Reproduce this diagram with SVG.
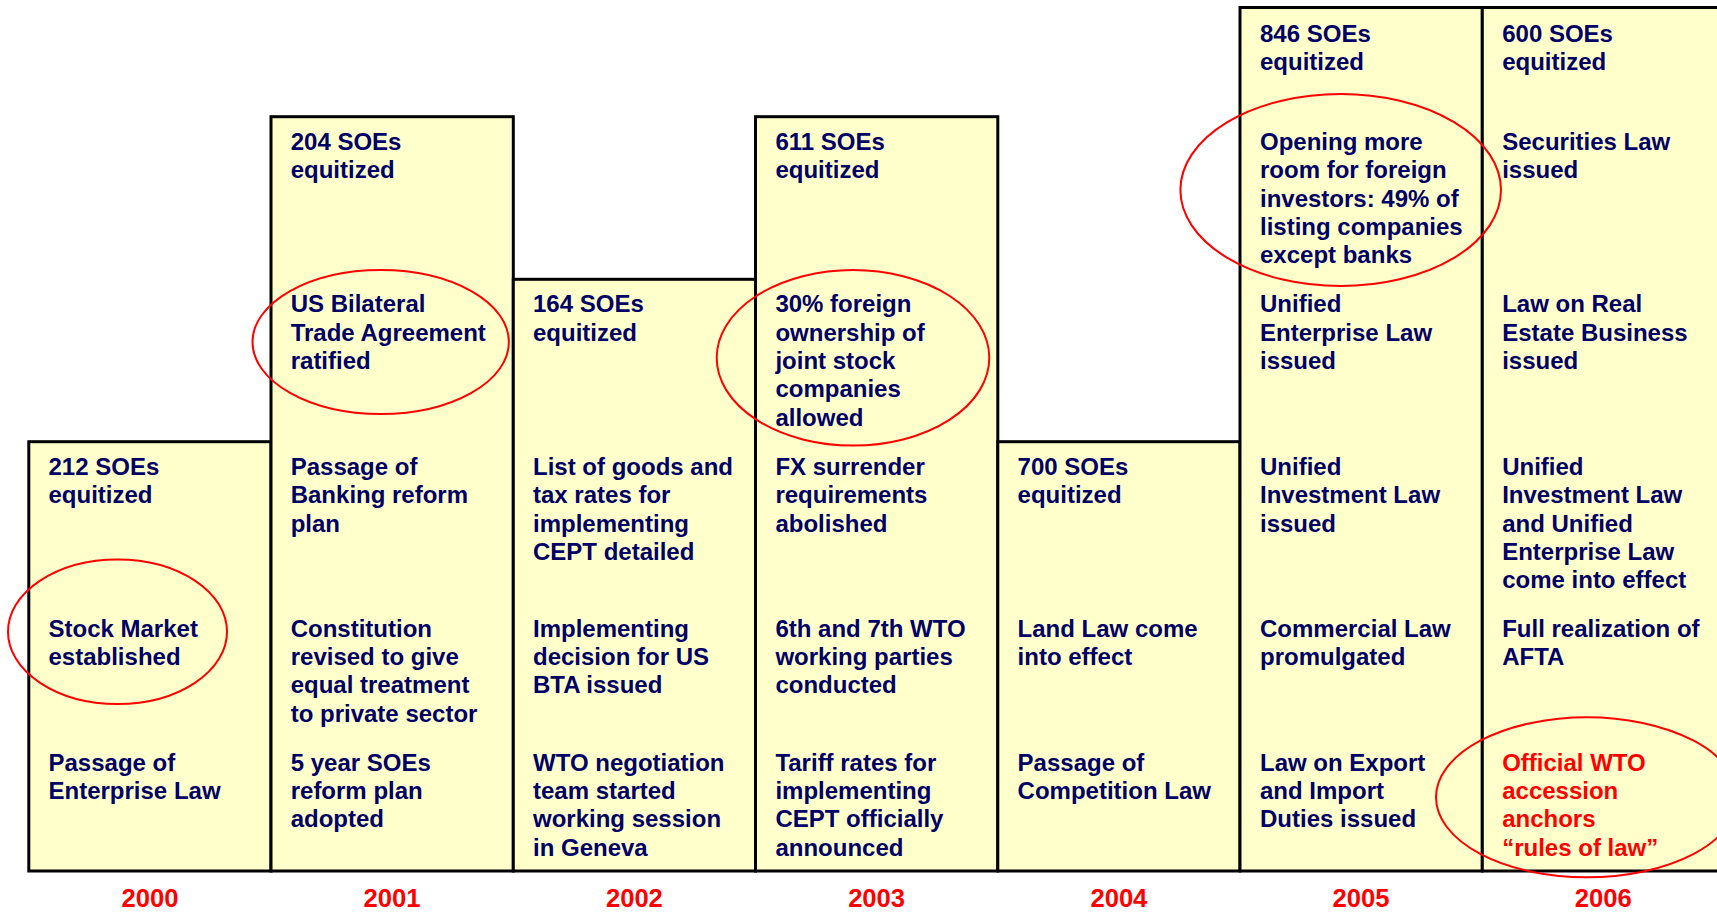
<svg xmlns="http://www.w3.org/2000/svg" width="1717" height="917" viewBox="0 0 1717 917">
<style>
.col{fill:#FFFFCC;stroke:#000;stroke-width:3}
.t{font-family:"Liberation Sans",Arial,sans-serif;font-weight:bold;font-size:24px;fill:#000066}
.red{fill:#FF0000}
.yr{font-family:"Liberation Sans",Arial,sans-serif;font-weight:bold;font-size:25.6px;fill:#FF0000;text-anchor:middle}
.ring{fill:none;stroke:#FF0000;stroke-width:2}
</style>
<rect width="1717" height="917" fill="#fff"/>
<g id="y2000">
<rect class="col" x="28.8" y="441.7" width="242.2" height="429.3"/>
<text class="t" x="48.5" y="475"><tspan x="48.5">212 SOEs</tspan><tspan x="48.5" dy="28.3">equitized</tspan></text>
<text class="t" x="48.5" y="636.7"><tspan x="48.5">Stock Market</tspan><tspan x="48.5" dy="28.3">established</tspan></text>
<text class="t" x="48.5" y="770.7"><tspan x="48.5">Passage of</tspan><tspan x="48.5" dy="28.3">Enterprise Law</tspan></text>
<text class="yr" x="150" y="906.5">2000</text>
</g>
<g id="y2001">
<rect class="col" x="271" y="116.7" width="242.3" height="754.3"/>
<text class="t" y="150"><tspan x="290.7">204 SOEs</tspan><tspan x="290.7" dy="28.3">equitized</tspan></text>
<text class="t" y="312.3"><tspan x="290.7">US Bilateral</tspan><tspan x="290.7" dy="28.3">Trade Agreement</tspan><tspan x="290.7" dy="28.3">ratified</tspan></text>
<text class="t" y="475"><tspan x="290.7">Passage of</tspan><tspan x="290.7" dy="28.3">Banking reform</tspan><tspan x="290.7" dy="28.3">plan</tspan></text>
<text class="t" y="636.7"><tspan x="290.7">Constitution</tspan><tspan x="290.7" dy="28.3">revised to give</tspan><tspan x="290.7" dy="28.3">equal treatment</tspan><tspan x="290.7" dy="28.3">to private sector</tspan></text>
<text class="t" y="770.7"><tspan x="290.7">5 year SOEs</tspan><tspan x="290.7" dy="28.3">reform plan</tspan><tspan x="290.7" dy="28.3">adopted</tspan></text>
<text class="yr" x="392" y="906.5">2001</text>
</g>
<g id="y2002">
<rect class="col" x="513.3" y="279.3" width="242.2" height="591.7"/>
<text class="t" y="312.3"><tspan x="533">164 SOEs</tspan><tspan x="533" dy="28.3">equitized</tspan></text>
<text class="t" y="475"><tspan x="533">List of goods and</tspan><tspan x="533" dy="28.3">tax rates for</tspan><tspan x="533" dy="28.3">implementing</tspan><tspan x="533" dy="28.3">CEPT detailed</tspan></text>
<text class="t" y="636.7"><tspan x="533">Implementing</tspan><tspan x="533" dy="28.3">decision for US</tspan><tspan x="533" dy="28.3">BTA issued</tspan></text>
<text class="t" y="770.7"><tspan x="533">WTO negotiation</tspan><tspan x="533" dy="28.3">team started</tspan><tspan x="533" dy="28.3">working session</tspan><tspan x="533" dy="28.3">in Geneva</tspan></text>
<text class="yr" x="634.4" y="906.5">2002</text>
</g>
<g id="y2003">
<rect class="col" x="755.5" y="116.7" width="242.3" height="754.3"/>
<text class="t" y="150"><tspan x="775.4">611 SOEs</tspan><tspan x="775.4" dy="28.3">equitized</tspan></text>
<text class="t" y="312.3"><tspan x="775.4">30% foreign</tspan><tspan x="775.4" dy="28.3">ownership of</tspan><tspan x="775.4" dy="28.3">joint stock</tspan><tspan x="775.4" dy="28.3">companies</tspan><tspan x="775.4" dy="28.3">allowed</tspan></text>
<text class="t" y="475"><tspan x="775.4">FX surrender</tspan><tspan x="775.4" dy="28.3">requirements</tspan><tspan x="775.4" dy="28.3">abolished</tspan></text>
<text class="t" y="636.7"><tspan x="775.4">6th and 7th WTO</tspan><tspan x="775.4" dy="28.3">working parties</tspan><tspan x="775.4" dy="28.3">conducted</tspan></text>
<text class="t" y="770.7"><tspan x="775.4">Tariff rates for</tspan><tspan x="775.4" dy="28.3">implementing</tspan><tspan x="775.4" dy="28.3">CEPT officially</tspan><tspan x="775.4" dy="28.3">announced</tspan></text>
<text class="yr" x="876.6" y="906.5">2003</text>
</g>
<g id="y2004">
<rect class="col" x="997.8" y="441.7" width="242.2" height="429.3"/>
<text class="t" y="475"><tspan x="1017.6">700 SOEs</tspan><tspan x="1017.6" dy="28.3">equitized</tspan></text>
<text class="t" y="636.7"><tspan x="1017.6">Land Law come</tspan><tspan x="1017.6" dy="28.3">into effect</tspan></text>
<text class="t" y="770.7"><tspan x="1017.6">Passage of</tspan><tspan x="1017.6" dy="28.3">Competition Law</tspan></text>
<text class="yr" x="1118.9" y="906.5">2004</text>
</g>
<g id="y2005">
<rect class="col" x="1240" y="7.5" width="242.3" height="863.5"/>
<text class="t" y="41.7"><tspan x="1260">846 SOEs</tspan><tspan x="1260" dy="28.3">equitized</tspan></text>
<text class="t" y="150"><tspan x="1260">Opening more</tspan><tspan x="1260" dy="28.3">room for foreign</tspan><tspan x="1260" dy="28.3">investors: 49% of</tspan><tspan x="1260" dy="28.3">listing companies</tspan><tspan x="1260" dy="28.3">except banks</tspan></text>
<text class="t" y="312.3"><tspan x="1260">Unified</tspan><tspan x="1260" dy="28.3">Enterprise Law</tspan><tspan x="1260" dy="28.3">issued</tspan></text>
<text class="t" y="475"><tspan x="1260">Unified</tspan><tspan x="1260" dy="28.3">Investment Law</tspan><tspan x="1260" dy="28.3">issued</tspan></text>
<text class="t" y="636.7"><tspan x="1260">Commercial Law</tspan><tspan x="1260" dy="28.3">promulgated</tspan></text>
<text class="t" y="770.7"><tspan x="1260">Law on Export</tspan><tspan x="1260" dy="28.3">and Import</tspan><tspan x="1260" dy="28.3">Duties issued</tspan></text>
<text class="yr" x="1361" y="906.5">2005</text>
</g>
<g id="y2006">
<rect class="col" x="1482.3" y="7.5" width="250" height="863.5"/>
<text class="t" y="41.7"><tspan x="1502.2">600 SOEs</tspan><tspan x="1502.2" dy="28.3">equitized</tspan></text>
<text class="t" y="150"><tspan x="1502.2">Securities Law</tspan><tspan x="1502.2" dy="28.3">issued</tspan></text>
<text class="t" y="312.3"><tspan x="1502.2">Law on Real</tspan><tspan x="1502.2" dy="28.3">Estate Business</tspan><tspan x="1502.2" dy="28.3">issued</tspan></text>
<text class="t" y="475"><tspan x="1502.2">Unified</tspan><tspan x="1502.2" dy="28.3">Investment Law</tspan><tspan x="1502.2" dy="28.3">and Unified</tspan><tspan x="1502.2" dy="28.3">Enterprise Law</tspan><tspan x="1502.2" dy="28.3">come into effect</tspan></text>
<text class="t" y="636.7"><tspan x="1502.2">Full realization of</tspan><tspan x="1502.2" dy="28.3">AFTA</tspan></text>
<text class="t red" y="770.7"><tspan x="1502.2">Official WTO</tspan><tspan x="1502.2" dy="28.3">accession</tspan><tspan x="1502.2" dy="28.3">anchors</tspan><tspan x="1502.2" dy="28.3">“rules of law”</tspan></text>
<text class="yr" x="1603.3" y="906.5">2006</text>
</g>
<g id="highlights">
<ellipse class="ring" cx="117.5" cy="631.7" rx="109.5" ry="72.3"/>
<ellipse class="ring" cx="380.7" cy="342" rx="128.2" ry="72"/>
<ellipse class="ring" cx="853" cy="357.8" rx="136.3" ry="87.8"/>
<ellipse class="ring" cx="1340.7" cy="190" rx="160.3" ry="96"/>
<ellipse class="ring" cx="1587" cy="797.3" rx="151" ry="80"/>
</g>
</svg>
